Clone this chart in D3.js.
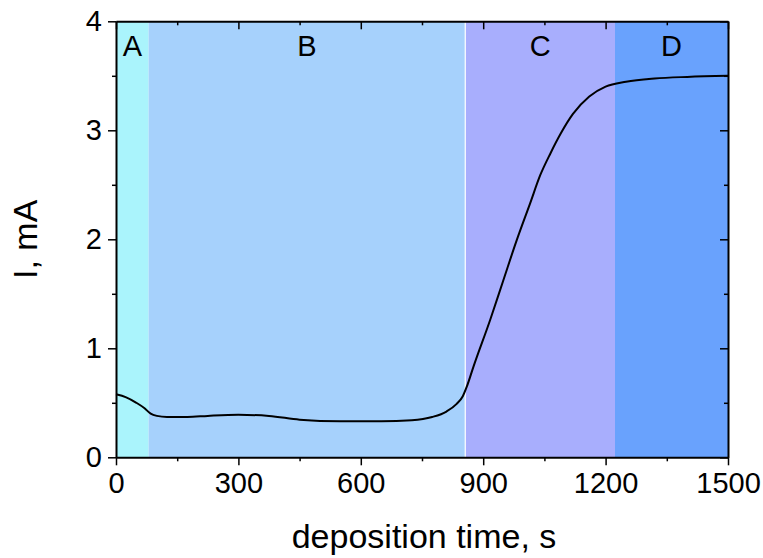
<!DOCTYPE html>
<html>
<head>
<meta charset="utf-8">
<script src="https://cdn.jsdelivr.net/npm/d3@7"></script>
<style>
  html, body { margin: 0; padding: 0; background: #fff; }
  svg { display: block; font-family: "Liberation Sans", Arial, sans-serif; }
</style>
</head>
<body>
<svg id="chart" width="763" height="558"></svg>
<script>
// Deposition current transient, stages A–D
const time = [0, 25, 50, 70, 85, 100, 125, 175, 225, 300, 375, 450, 550, 650, 725, 775, 810, 835, 850, 860, 876, 917, 949, 982, 1015, 1040, 1065, 1090, 1120, 1160, 1200, 1250, 1320, 1400, 1500];
const current = [0.578, 0.55, 0.50, 0.45, 0.40, 0.38, 0.37, 0.37, 0.38, 0.39, 0.38, 0.345, 0.33, 0.33, 0.34, 0.37, 0.42, 0.49, 0.56, 0.65, 0.83, 1.26, 1.62, 1.99, 2.33, 2.59, 2.79, 2.97, 3.15, 3.31, 3.40, 3.445, 3.475, 3.49, 3.50];

const stageNames = ["A", "B", "C", "D"];
const stageStart = [0, 80, 856, 1223];
const stageEnd = [80, 856, 1223, 1500];
const stageColors = ["#aaf4fc", "#a6d1fc", "#a8aefd", "#69a2fd"];

const xTicks = [0, 300, 600, 900, 1200, 1500];
const xMinor = [150, 450, 750, 1050, 1350];
const yTicks = [0, 1, 2, 3, 4];
const yMinor = [0.5, 1.5, 2.5, 3.5];

const svg = d3.select("#chart");
const margin = { left: 116, right: 35, top: 21.3, bottom: 100.7 };
const W = 763 - margin.left - margin.right;
const H = 558 - margin.top - margin.bottom;

const x = d3.scaleLinear().domain([0, 1500]).range([0, W]);
const y = d3.scaleLinear().domain([0, 4]).range([H, 0]);
const fmt = d3.format("d");

const g = svg.append("g").attr("transform", `translate(${margin.left},${margin.top})`);

// stage backgrounds
g.selectAll("rect.stage").data(stageNames).join("rect")
  .attr("class", "stage")
  .attr("x", (d, i) => x(stageStart[i]))
  .attr("y", 0)
  .attr("width", (d, i) => x(stageEnd[i]) - x(stageStart[i]))
  .attr("height", H)
  .attr("fill", (d, i) => stageColors[i]);

// thin white divider between B and C
g.append("line")
  .attr("x1", x(stageStart[2])).attr("x2", x(stageStart[2]))
  .attr("y1", 0).attr("y2", H)
  .attr("stroke", "#fff").attr("stroke-width", 1.2);

// stage letters
g.selectAll("text.stage").data(stageNames).join("text")
  .attr("class", "stage")
  .attr("x", (d, i) => x((stageStart[i] + stageEnd[i]) / 2))
  .attr("y", 35)
  .attr("text-anchor", "middle")
  .attr("font-size", 29)
  .attr("fill", "#000")
  .text(d => d);

// current curve
const line = d3.line()
  .x((d, i) => x(time[i]))
  .y((d, i) => y(current[i]))
  .curve(d3.curveMonotoneX);

g.append("path")
  .datum(current)
  .attr("d", line)
  .attr("fill", "none")
  .attr("stroke", "#000")
  .attr("stroke-width", 2);

// axes
function styleAxis(sel) {
  sel.select(".domain").attr("stroke", "#000").attr("stroke-width", 2);
  sel.selectAll(".tick line").attr("stroke", "#000").attr("stroke-width", 1.5);
  sel.selectAll(".tick text").attr("font-size", 29).attr("fill", "#000")
    .attr("font-family", "Liberation Sans, Arial, sans-serif");
}
function minorStyle(s) {
  s.select(".domain").remove();
  s.selectAll("line").attr("stroke", "#000").attr("stroke-width", 1.5);
}

const gx = g.append("g").attr("transform", `translate(0,${H})`)
  .call(d3.axisBottom(x).tickValues(xTicks).tickFormat(fmt).tickSize(8).tickPadding(6).tickSizeOuter(0));
styleAxis(gx);
gx.selectAll(".tick text").attr("dy", "0.74em");
g.append("g").attr("transform", `translate(0,${H})`)
  .call(d3.axisBottom(x).tickValues(xMinor).tickSize(4).tickFormat("").tickSizeOuter(0))
  .call(minorStyle);

const gy = g.append("g")
  .call(d3.axisLeft(y).tickValues(yTicks).tickFormat(fmt).tickSize(8).tickPadding(6).tickSizeOuter(0));
styleAxis(gy);
g.append("g")
  .call(d3.axisLeft(y).tickValues(yMinor).tickSize(4).tickFormat("").tickSizeOuter(0))
  .call(minorStyle);

// mirrored top and right axes with inward ticks
const gt = g.append("g")
  .call(d3.axisBottom(x).tickValues(xTicks).tickSize(8).tickFormat("").tickSizeOuter(0));
styleAxis(gt);
g.append("g")
  .call(d3.axisBottom(x).tickValues(xMinor).tickSize(4).tickFormat("").tickSizeOuter(0))
  .call(minorStyle);

const gr = g.append("g").attr("transform", `translate(${W},0)`)
  .call(d3.axisLeft(y).tickValues(yTicks).tickSize(8).tickFormat("").tickSizeOuter(0));
styleAxis(gr);
g.append("g").attr("transform", `translate(${W},0)`)
  .call(d3.axisLeft(y).tickValues(yMinor).tickSize(4).tickFormat("").tickSizeOuter(0))
  .call(minorStyle);

// axis titles
svg.append("text")
  .attr("x", margin.left + W / 2 + 2)
  .attr("y", 548)
  .attr("text-anchor", "middle")
  .attr("font-size", 34)
  .attr("fill", "#000")
  .text("deposition time, s");

svg.append("text")
  .attr("transform", `translate(37,${margin.top + H / 2}) rotate(-90)`)
  .attr("text-anchor", "middle")
  .attr("font-size", 34)
  .attr("fill", "#000")
  .text("I, mA");
</script>
</body>
</html>
